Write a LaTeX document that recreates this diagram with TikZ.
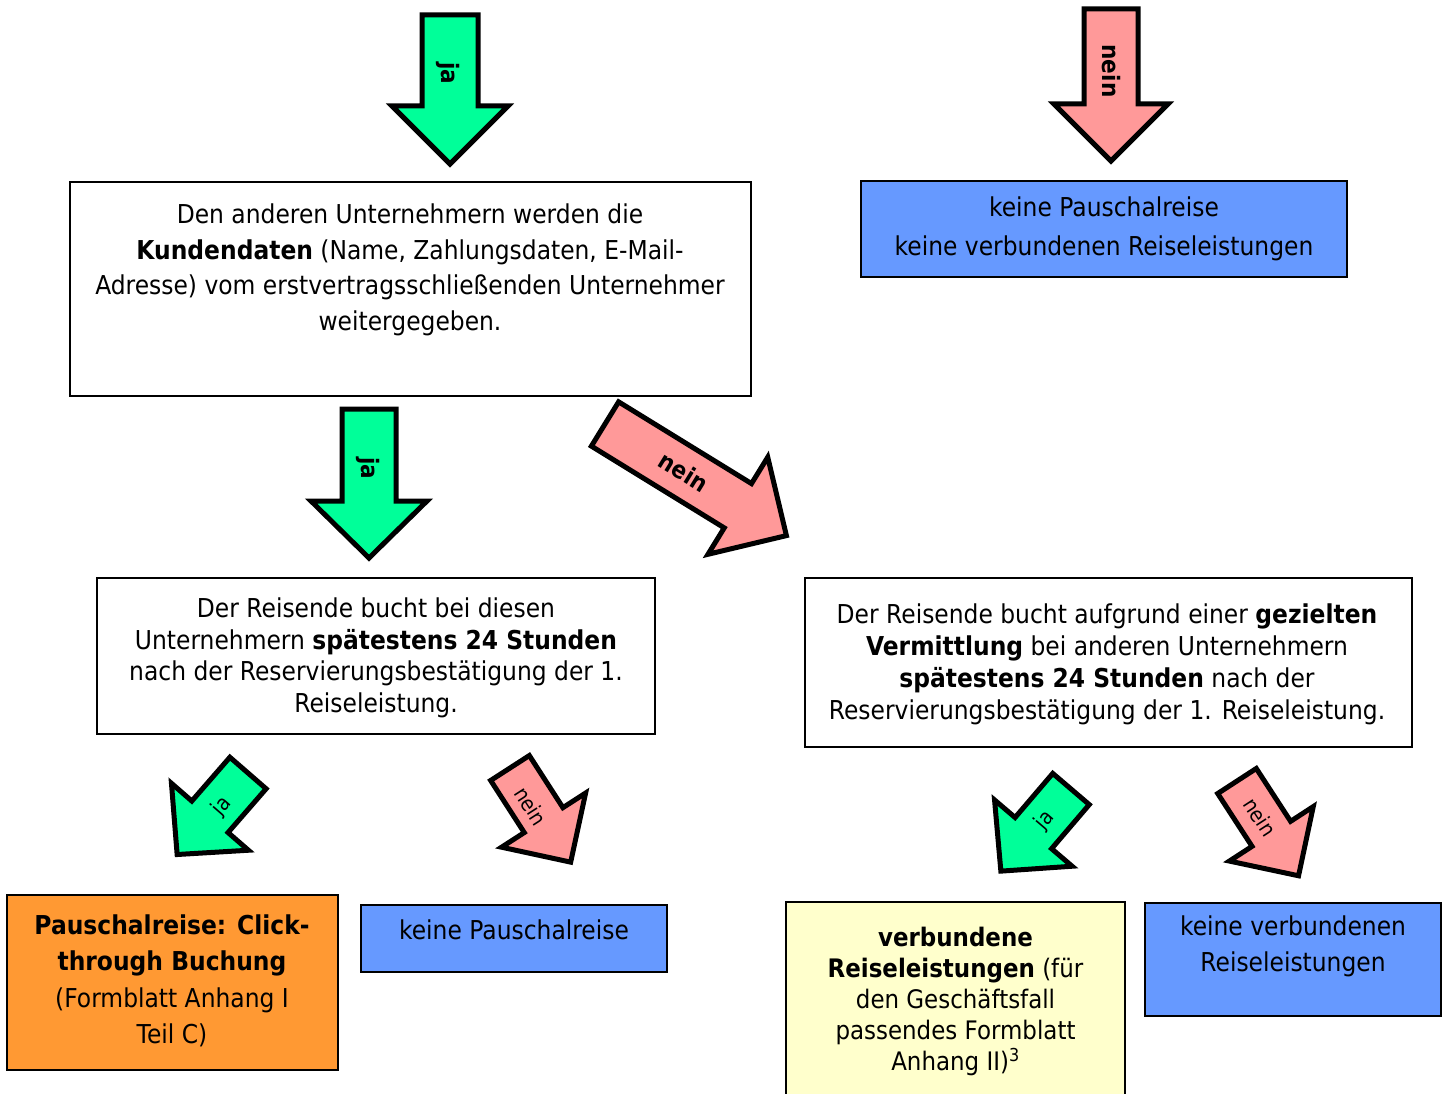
\documentclass[tikz,border=0pt]{standalone}
\usepackage{fontspec}
\setmainfont{DejaVu Sans}[FakeStretch=0.9]
\definecolor{cgreen}{HTML}{00FF99}
\definecolor{cred}{HTML}{FF9999}
\definecolor{cblue}{HTML}{6699FF}
\definecolor{corange}{HTML}{FF9933}
\definecolor{cyellow}{HTML}{FFFFCC}
\newcommand{\blockarr}[7]{%
  \draw[#1, shift={#2}, rotate=#3] (0,#5) -- ({#4-#7},#5) -- ({#4-#7},#6) -- (#4,0) -- ({#4-#7},-#6) -- ({#4-#7},-#5) -- (0,-#5) -- cycle;}
\begin{document}
\begin{tikzpicture}[x=1pt,y=1pt,
  box/.style={draw=black, line width=2pt, inner sep=0pt},
  txt/.style={align=center, font=\fontsize{26}{35}\selectfont, inner sep=0pt},
  garr/.style={draw=black, fill=cgreen, line width=5pt, line join=miter},
  rarr/.style={draw=black, fill=cred, line width=5pt, line join=miter},
  biglbl/.style={font=\fontsize{24}{24}\selectfont\bfseries, inner sep=0pt},
  smalllbl/.style={font=\fontsize{21}{21}\selectfont, inner sep=0pt}]
\useasboundingbox (0,0) rectangle (1448,-1094);
\fill[white] (0,0) rectangle (1448,-1094);

% boxes
\node[box, fill=white, minimum width=681, minimum height=214] (b1) at (410.5,-289) {};
\node[txt, font=\fontsize{26}{35.5}\selectfont] (t1) at (410,-270) {Den anderen Unternehmern werden die\\\textbf{Kundendaten} (Name, Zahlungsdaten, E-Mail-\\Adresse) vom erstvertragsschließenden Unternehmer\\weitergegeben.};

\node[box, fill=cblue, minimum width=486, minimum height=96] (b2) at (1104,-229) {};
\node[txt, font=\fontsize{26}{39}\selectfont] (t2) at (1104,-229) {keine Pauschalreise\\keine verbundenen Reiseleistungen};

\node[box, fill=white, minimum width=558, minimum height=156] (b3) at (376,-656) {};
\node[txt, font=\fontsize{26}{31.5}\selectfont] (t3) at (376,-658) {Der Reisende bucht bei diesen\\Unternehmern \textbf{spätestens 24 Stunden}\\nach der Reservierungsbestätigung der 1.\\Reiseleistung.};

\node[box, fill=white, minimum width=607, minimum height=169] (b4) at (1108.5,-662.5) {};
\node[txt, font=\fontsize{26}{32}\selectfont] (t4) at (1107,-664) {Der Reisende bucht aufgrund einer \textbf{gezielten}\\\textbf{Vermittlung} bei anderen Unternehmern\\\textbf{spätestens 24 Stunden} nach der\\Reservierungsbestätigung der 1. Reiseleistung.};

\node[box, fill=corange, minimum width=331, minimum height=175] (b5) at (172.5,-982.5) {};
\node[txt, font=\fontsize{26}{36.5}\selectfont] (t5) at (172,-981) {\textbf{Pauschalreise: Click-}\\\textbf{through Buchung}\\(Formblatt Anhang I\\Teil C)};

\node[box, fill=cblue, minimum width=306, minimum height=67] (b6) at (514,-938.5) {};
\node[txt] (t6) at (514,-930) {keine Pauschalreise};

\node[box, fill=cyellow, minimum width=339, minimum height=200] (b7) at (955.5,-1002) {};
\node[txt, font=\fontsize{25.5}{31.2}\selectfont] (t7) at (955.5,-1001.5) {\textbf{verbundene}\\\textbf{Reiseleistungen} (für\\den Geschäftsfall\\passendes Formblatt\\Anhang II)\textsuperscript{3}};

\node[box, fill=cblue, minimum width=296, minimum height=113] (b8) at (1293,-959.5) {};
\node[txt, font=\fontsize{26}{36}\selectfont] (t8) at (1293,-946) {keine verbundenen\\Reiseleistungen};

% arrows
\blockarr{garr}{(450,-15)}{-90}{149}{28}{58}{58}
\node[biglbl, rotate=-90] (l1) at (448,-73) {ja};

\blockarr{rarr}{(1111,-9)}{-90}{152}{27}{57}{57}
\node[biglbl, rotate=-90] (l2) at (1111,-71) {nein};

\blockarr{garr}{(369,-409)}{-90}{149}{27}{58}{57}
\node[biglbl, rotate=-90] (l3) at (368,-468) {ja};

\blockarr{rarr}{(605,-424)}{-31.6}{213}{26}{57}{57}
\node[biglbl, rotate=-31.6] (l4) at (684,-472) {nein};

\blockarr{garr}{(248,-773)}{229}{108}{24}{51}{50}
\node[smalllbl, rotate=49] (l5) at (222,-806) {ja};

\blockarr{rarr}{(510,-768)}{-57.2}{112}{23}{50}{50}
\node[smalllbl, rotate=-57.2] (l6) at (531,-806) {nein};

\blockarr{garr}{(1071,-789)}{229.5}{108}{24}{51}{50}
\node[smalllbl, rotate=49.5] (l7) at (1045,-820) {ja};

\blockarr{rarr}{(1237,-781)}{-57}{113}{23}{50}{50}
\node[smalllbl, rotate=-57] (l8) at (1260,-817) {nein};
\end{tikzpicture}
\end{document}
